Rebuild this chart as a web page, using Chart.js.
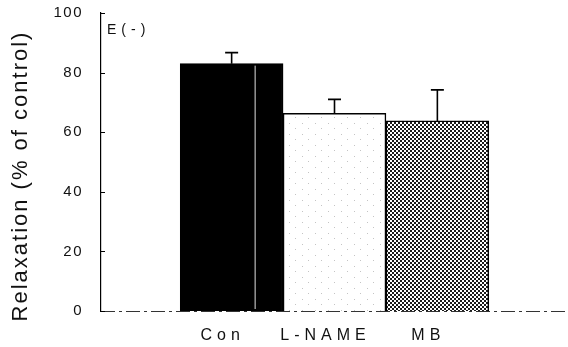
<!DOCTYPE html>
<html><head><meta charset="utf-8">
<script src="https://cdn.jsdelivr.net/npm/chart.js@4"></script>
<style>html,body{margin:0;padding:0;background:#fff}#wrap{width:568px;height:347px}</style>
</head><body><div id="wrap"><canvas id="c" width="568" height="347"></canvas></div>
<script>
const categories = ['Con', 'L-NAME', 'MB'];
const means = [83, 66.3, 63.8];
const errors = [3.7, 4.7, 10.4];
const yTicks = [0, 20, 40, 60, 80, 100];
const panelLabel = 'E(-)';
const yTitle = 'Relaxation (% of control)';
const FONT = '"Liberation Sans", Arial, sans-serif';

const cv = document.getElementById('c');
function checker() {
  const c = document.createElement('canvas'); c.width = 4; c.height = 4;
  const g = c.getContext('2d');
  g.fillStyle = '#fff'; g.fillRect(0,0,4,4);
  g.fillStyle = '#1a1a1a'; g.fillRect(0,0,2,2); g.fillRect(2,2,2,2);
  return cv.getContext('2d').createPattern(c,'repeat');
}
function speckle() {
  const c = document.createElement('canvas'); c.width = 13; c.height = 11;
  const g = c.getContext('2d');
  g.fillStyle = '#fff'; g.fillRect(0,0,13,11);
  g.fillStyle = '#c4c4c4'; g.fillRect(3,2,1,1); g.fillRect(9,7,1,1);
  return cv.getContext('2d').createPattern(c,'repeat');
}

const extras = {
  id: 'extras',
  beforeDraw(chart) { chart.ctx.letterSpacing = '1.5px'; },
  beforeDatasetsDraw(chart) {
    const {ctx, chartArea, scales:{y}} = chart;
    const py = Math.round(y.getPixelForValue(0)) + 0.5;
    ctx.save();
    ctx.strokeStyle = '#333'; ctx.lineWidth = 1.2;
    ctx.setLineDash([14, 4, 3, 4]);
    ctx.beginPath(); ctx.moveTo(chartArea.left, py); ctx.lineTo(chartArea.right, py); ctx.stroke();
    ctx.restore();
  },
  afterDatasetsDraw(chart) {
    const {ctx, scales:{x, y}} = chart;
    const meta = chart.getDatasetMeta(0);
    ctx.save();
    // light streak in Con bar
    const b0 = meta.data[0];
    ctx.strokeStyle = '#e0e0e0'; ctx.lineWidth = 1;
    ctx.beginPath(); ctx.moveTo(b0.x + 23.5, b0.y + 2); ctx.lineTo(b0.x + 23.5, b0.base - 2); ctx.stroke();
    // error bars
    ctx.strokeStyle = '#000'; ctx.lineWidth = 1.6;
    means.forEach((m, i) => {
      const px = meta.data[i].x;
      const top = y.getPixelForValue(m + errors[i]);
      const base = y.getPixelForValue(m);
      ctx.beginPath();
      ctx.moveTo(px, base); ctx.lineTo(px, top);
      ctx.moveTo(px - 6.5, top); ctx.lineTo(px + 6.5, top);
      ctx.stroke();
    });
    // inward ticks on y axis
    ctx.lineWidth = 1;
    yTicks.forEach(v => {
      const py = Math.round(y.getPixelForValue(v)) + 0.5;
      ctx.beginPath(); ctx.moveTo(y.right, py); ctx.lineTo(y.right + 4, py); ctx.stroke();
    });
    // category labels
    ctx.fillStyle = '#111';
    ctx.font = '16px ' + FONT;
    ctx.letterSpacing = '5px';
    ctx.textAlign = 'center'; ctx.textBaseline = 'middle';
    categories.forEach((c, i) => {
      ctx.fillText(c, x.getPixelForValue(i) - 9, 336);
    });
    // panel label
    ctx.letterSpacing = '5px';
    ctx.font = '14px ' + FONT;
    ctx.textAlign = 'left';
    ctx.fillText(panelLabel, y.right + 6, 30);
    // y title
    ctx.translate(21, (y.top + y.bottom) / 2 + 14);
    ctx.rotate(-Math.PI / 2);
    ctx.font = '22px ' + FONT;
    ctx.letterSpacing = '2px';
    ctx.textAlign = 'center';
    ctx.fillText(yTitle, 0, 0);
    ctx.restore();
  }
};

new Chart(cv.getContext('2d'), {
  type: 'bar',
  data: {
    datasets: [{
      data: categories.map((c, i) => ({x: i, y: means[i]})),
      backgroundColor: ['#000', speckle(), checker()],
      borderColor: '#000',
      borderWidth: 1.5,
      barPercentage: 1,
      categoryPercentage: 1
    }]
  },
  options: {
    responsive: false,
    animation: false,
    devicePixelRatio: 1,
    layout: {padding: {top: 13, right: 0, left: 0, bottom: 0}},
    plugins: {legend: {display: false}, tooltip: {enabled: false}},
    scales: {
      x: {
        type: 'linear',
        offset: false,
        min: -1.27, max: 3.27,
        afterBuildTicks(s) { s.ticks = categories.map((c, i) => ({value: i})); },
        grid: {display: false, drawTicks: false, offset: false},
        border: {display: false},
        ticks: {display: false},
        afterFit(s) { s.height = 36; s.paddingLeft = 0; s.paddingRight = 0; }
      },
      y: {
        min: 0, max: 100,
        afterBuildTicks(s) { s.ticks = yTicks.map(v => ({value: v})); },
        grid: {display: false, drawTicks: false},
        border: {display: true, color: '#000', width: 1.2},
        ticks: {
          padding: 18,
          color: '#111',
          font: {size: 15, family: FONT}
        },
        title: {display: false},
        afterFit(s) { s.width = 101; s.paddingTop = 0; s.paddingBottom = 0; }
      }
    }
  },
  plugins: [extras]
});
</script></body></html>
